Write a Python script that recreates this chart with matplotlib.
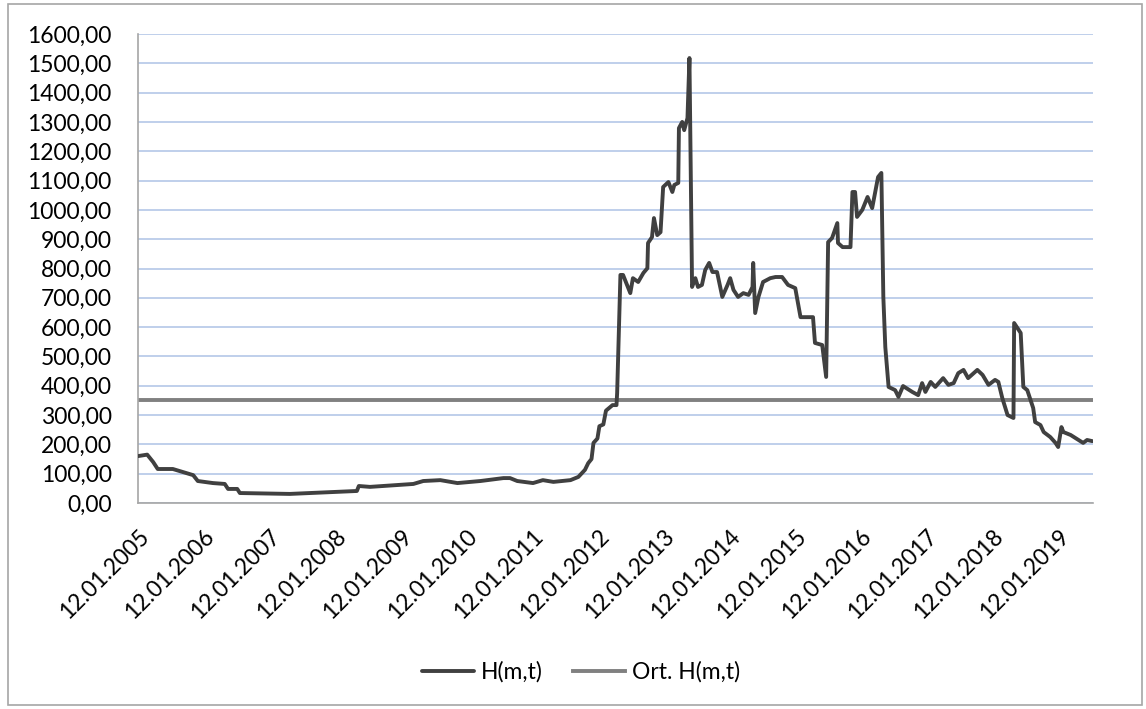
import matplotlib
matplotlib.use("Agg")
import matplotlib.pyplot as plt
from matplotlib.patches import Rectangle

# --- data (x in decimal years, y = H(m,t)) ---
years = [2005.00, 2005.14, 2005.23, 2005.30, 2005.53, 2005.84, 2005.91, 2006.14,
         2006.32, 2006.37, 2006.51, 2006.55, 2007.31, 2007.92, 2008.33, 2008.36,
         2008.53, 2009.19, 2009.34, 2009.60, 2009.86, 2010.05, 2010.21, 2010.56,
         2010.66, 2010.77, 2011.01, 2011.16, 2011.32, 2011.58, 2011.70, 2011.80,
         2011.85, 2011.90, 2011.93, 2011.99, 2012.02, 2012.08, 2012.12, 2012.22,
         2012.28, 2012.29, 2012.32, 2012.34, 2012.38, 2012.49, 2012.53, 2012.61,
         2012.69, 2012.75, 2012.76, 2012.82, 2012.85, 2012.90, 2012.95, 2012.99,
         2013.07, 2013.13, 2013.16, 2013.22, 2013.23, 2013.28, 2013.31, 2013.36,
         2013.39, 2013.43, 2013.48, 2013.52, 2013.58, 2013.63, 2013.69, 2013.74,
         2013.81, 2013.89, 2013.97, 2014.01, 2014.06, 2014.13, 2014.21, 2014.29,
         2014.35, 2014.36, 2014.39, 2014.44, 2014.51, 2014.62, 2014.70, 2014.80,
         2014.89, 2015.00, 2015.08, 2015.15, 2015.27, 2015.30, 2015.41, 2015.47,
         2015.50, 2015.56, 2015.64, 2015.65, 2015.72, 2015.84, 2015.87, 2015.91,
         2015.94, 2016.02, 2016.10, 2016.17, 2016.26, 2016.31, 2016.34, 2016.37,
         2016.42, 2016.52, 2016.57, 2016.64, 2016.78, 2016.87, 2016.93, 2016.98,
         2017.06, 2017.13, 2017.25, 2017.33, 2017.41, 2017.48, 2017.56, 2017.63,
         2017.77, 2017.85, 2017.94, 2018.04, 2018.09, 2018.15, 2018.23, 2018.32,
         2018.33, 2018.38, 2018.43, 2018.47, 2018.53, 2018.58, 2018.62, 2018.65,
         2018.73, 2018.78, 2018.88, 2018.96, 2019.00, 2019.05, 2019.08, 2019.19,
         2019.31, 2019.38, 2019.44, 2019.52]
h_mt = [160, 165, 140, 116, 116, 95, 75, 68,
        65, 48, 48, 34, 31, 37, 41, 58,
        55, 65, 75, 78, 68, 72, 75, 85,
        85, 75, 68, 78, 72, 78, 89, 113,
        136, 150, 205, 220, 262, 268, 315, 334,
        334, 375, 614, 778, 778, 716, 767, 754,
        785, 801, 887, 907, 972, 914, 924, 1078,
        1095, 1061, 1085, 1092, 1279, 1300, 1272, 1313,
        1518, 737, 767, 737, 744, 795, 819, 788,
        788, 703, 744, 767, 727, 703, 716, 710,
        737, 819, 648, 703, 754, 767, 771, 771,
        744, 733, 634, 634, 634, 546, 539, 430,
        890, 904, 955, 887, 873, 873, 1061, 1061,
        976, 1000, 1044, 1006, 1112, 1126, 703, 532,
        396, 385, 362, 399, 379, 368, 409, 379,
        413, 396, 426, 403, 409, 443, 454, 426,
        454, 437, 403, 420, 413, 358, 300, 290,
        614, 597, 580, 396, 385, 351, 324, 276,
        266, 242, 225, 205, 191, 259, 242, 232,
        215, 205, 215, 211]
avg_h = 350.0

tick_years = list(range(2005, 2020))
tick_labels = [f"12.01.{y}" for y in tick_years]
y_ticks = list(range(0, 1700, 100))

plt.rcParams['font.family'] = ['Lato', 'DejaVu Sans']

W, H = 1146, 709
fig = plt.figure(figsize=(W / 100, H / 100), dpi=100)
ax = fig.add_axes([138 / W, 1 - 503 / H, (1093 - 138) / W, (503 - 34) / H])

ax.plot(years, h_mt, color='#404040', lw=2.8, solid_joinstyle='round',
        solid_capstyle='round', label='H(m,t)', zorder=3)
ax.axhline(avg_h, color='#808080', lw=2.8, label='Ort. H(m,t)', zorder=2)

ax.set_xlim(2005, 2019.53)
ax.set_ylim(0, 1600)
ax.set_yticks(y_ticks)
ax.set_yticklabels([f"{v},00" for v in y_ticks], fontsize=16.5)
ax.set_xticks(tick_years)
ax.set_xticklabels(tick_labels, fontsize=16.5, rotation=45, ha='right',
                   va='top', rotation_mode='anchor')
ax.tick_params(axis='both', length=0)
ax.tick_params(axis='y', pad=19)
ax.tick_params(axis='x', pad=16)

ax.grid(axis='y', color='#B4C7E7', lw=1.2)
ax.set_axisbelow(True)
for s in ['top', 'right']:
    ax.spines[s].set_visible(False)
for s in ['left', 'bottom']:
    ax.spines[s].set_color('#A6A6A6')
    ax.spines[s].set_linewidth(1.2)

fig.legend(loc='center', bbox_to_anchor=(581 / W, 1 - 672 / H), ncol=2,
           frameon=False, fontsize=16.5, handlelength=2.3, handletextpad=0.3,
           columnspacing=1.3)

fig.patches.append(Rectangle((8 / W, 4 / H), (1142 - 8) / W, (705 - 4) / H,
                             transform=fig.transFigure, fill=False,
                             edgecolor='#A6A6A6', lw=1.2))

fig.savefig('out.png', dpi=100)
